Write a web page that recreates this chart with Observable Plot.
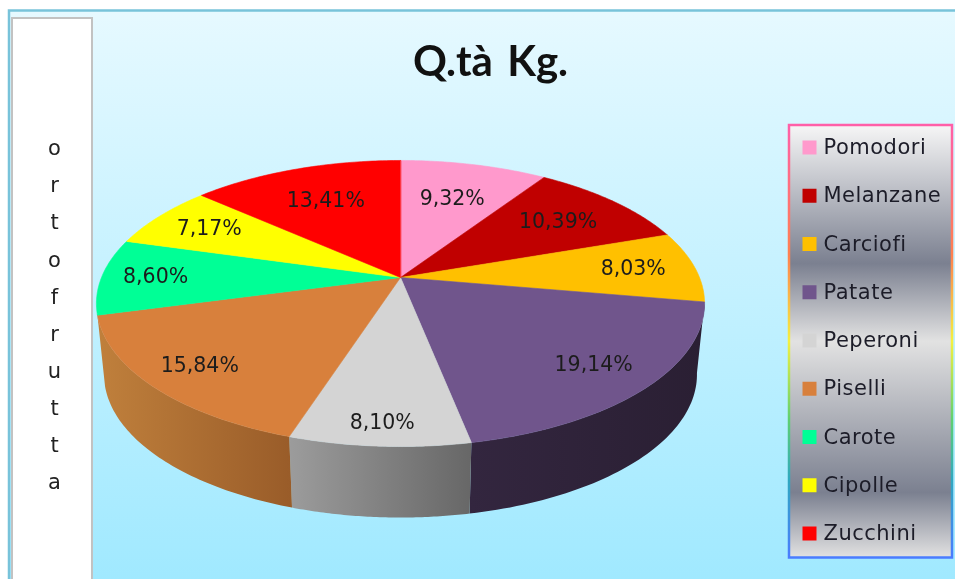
<!DOCTYPE html>
<html><head><meta charset="utf-8">
<script src="https://cdn.jsdelivr.net/npm/d3@7"></script>
<script src="https://cdn.jsdelivr.net/npm/@observablehq/plot@0.6"></script>
<style>html,body{margin:0;padding:0;background:#fff;overflow:hidden}svg{display:block;filter:blur(.4px)}
.legend-label text{letter-spacing:.5px}
.title-label text{word-spacing:4px}</style>
</head><body><div id="chart"></div>
<script>
const categories = ["Pomodori","Melanzane","Carciofi","Patate","Peperoni","Piselli","Carote","Cipolle","Zucchini"];
const shares = [9.32,10.39,8.03,19.14,8.10,15.84,8.60,7.17,13.41];
const sliceColors = ["#ff99cc","#c00000","#ffc000","#70558c","#d4d4d4","#d8803c","#00ff96","#ffff00","#ff0000"];
const sideSlices = ["Patate","Peperoni","Piselli"];
const axisLetters = "ortofrutta".split("");
const titleText = "Q.tà Kg.";
// How far along its radius each percentage label sits (fraction of the radius)
const labelReach = [0.67,0.72,0.79,0.81,0.88,0.83,0.82,0.78,0.68];

// Perspective pie geometry (pixels)
const W = 955, H = 579;
const cx = 400, cy = 277, R = 299, Ry = 138.3, k = 0.1818, depth = 71, sideShrink = 0.975;
const project = (t, r = 1) => {
  const a = t * 2 * Math.PI, u = r * Math.sin(a), v = -r * Math.cos(a), s = 1 / (1 - k * v);
  return [cx + R * u * s, cy + Ry * v * s];
};
const ends = Array.from(d3.cumsum(shares), d => d / 100);
const starts = ends.map((_, i) => i ? ends[i - 1] : 0);
const arc = (i) => d3.range(0, 61).map(j => starts[i] + (ends[i] - starts[i]) * j / 60);

const topRows = categories.flatMap((name, i) => [
  {name, x: cx, y: cy},
  ...arc(i).map(t => { const [x, y] = project(t); return {name, x, y}; })
]);
const sideRows = name => {
  const i = categories.indexOf(name), ts = arc(i);
  const upper = ts.map(t => project(t));
  const lower = ts.slice().reverse().map(t => {
    const [x, y] = project(t);
    return [cx + (x - cx) * sideShrink, y + depth];
  });
  return [...upper, ...lower].map(([x, y]) => ({x, y}));
};
const labelRows = categories.map((name, i) => {
  const [x, y] = project((starts[i] + ends[i]) / 2, labelReach[i]);
  return {name, x, y, text: shares[i].toFixed(2).replace(".", ",") + "%"};
});

const legendTop = 147, legendStep = 48.25;
const legendRows = categories.map((name, i) => ({name, y: legendTop + i * legendStep}));

const gradient = (id, stops, vertical) =>
  `<linearGradient id="${id}" x1="0" y1="0" x2="${vertical ? 0 : 1}" y2="${vertical ? 1 : 0}">` +
  stops.map(([o, c]) => `<stop offset="${o}" stop-color="${c}"/>`).join("") + `</linearGradient>`;
const defs = () => {
  const g = d3.create("svg:defs");
  g.html(
    gradient("panelBg", [[0,"#e6f9ff"],[1,"#a0e9ff"]], true) +
    gradient("legendBg", [[0,"#f6f6f6"],[0.32,"#7b8090"],[0.5,"#e2e2e2"],[0.85,"#7b8090"],[1,"#e2e2e2"]], true) +
    gradient("legendEdge", [[0,"#ff5fa8"],[0.3,"#ff8050"],[0.5,"#f4f040"],[0.68,"#60d070"],[0.82,"#30a8c0"],[1,"#4a7cff"]], true) +
    gradient("sidePatate", [[0,"#33263f"],[1,"#2a1f33"]], false) +
    gradient("sidePeperoni", [[0,"#9c9c9c"],[1,"#676767"]], false) +
    gradient("sidePiselli", [[0,"#c0803c"],[1,"#995c29"]], false)
  );
  return g.node();
};
const box = (x1, y1, x2, y2, opts) => Plot.rect([{x1, y1, x2, y2}], {x1:"x1", y1:"y1", x2:"x2", y2:"y2", ...opts});

const chart = Plot.plot({
  width: W, height: H, margin: 0,
  style: {background: "#fff", fontFamily: "'DejaVu Sans', sans-serif"},
  x: {domain: [0, W], range: [0, W], axis: null},
  y: {domain: [0, H], range: [0, H], axis: null},
  color: {domain: categories, range: sliceColors},
  marks: [
    defs,
    box(9, 10.5, 957, 582, {fill: "url(#panelBg)", stroke: "#78c3da", strokeWidth: 2.5}),
    box(12, 18, 92, 582, {fill: "#fff", stroke: "#c2c2c2", strokeWidth: 2}),
    Plot.text(axisLetters, {x: () => 54, y: (d, i) => 148 + i * 37.1, text: d => d, fontSize: 21, fill: "#222"}),
    Plot.text([titleText], {x: () => 490, y: () => 62, text: d => d, fontSize: 42, fontWeight: 700, fontFamily: "Lato", fill: "#111", className: "title-label"}),
    ...sideSlices.map(name => Plot.line(sideRows(name), {x: "x", y: "y", fill: `url(#side${name})`, stroke: "none", curve: "linear-closed"})),
    Plot.line(topRows, {x: "x", y: "y", z: "name", fill: "name", stroke: "name", strokeWidth: 0.6, curve: "linear-closed"}),
    Plot.text(labelRows, {x: "x", y: "y", text: "text", fontSize: 20.5, fill: "#1c1c1c"}),
    box(789, 125, 952, 557.5, {fill: "url(#legendBg)", stroke: "url(#legendEdge)", strokeWidth: 2.5}),
    Plot.dot(legendRows, {x: () => 809, y: "y", fill: "name", symbol: "square", r: 7.9, stroke: "none"}),
    Plot.text(legendRows, {x: () => 823, y: "y", text: "name", textAnchor: "start", fontSize: 21, fill: "#1c1c28", className: "legend-label"})
  ]
});
document.getElementById("chart").append(chart);
</script></body></html>
